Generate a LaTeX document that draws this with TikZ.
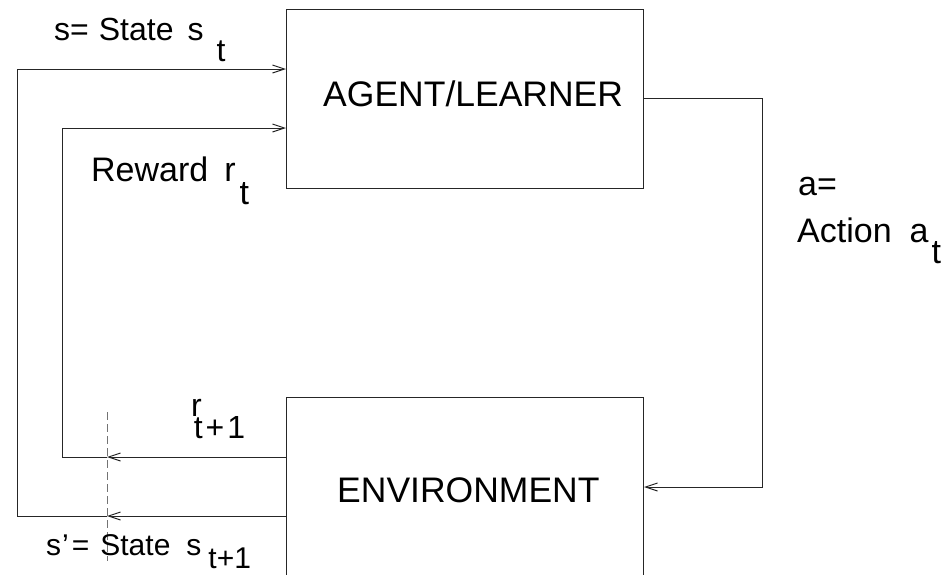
\documentclass[tikz,border=0pt]{standalone}
\usepackage{fontspec}
\setmainfont{Liberation Sans}
\usetikzlibrary{arrows.meta}
\begin{document}
\begin{tikzpicture}[x=1pt,y=-1pt,
  box/.style={draw=black!85, line width=1pt, minimum width=357pt, inner sep=0pt, anchor=north west},
  conn/.style={draw=black!85, line width=1pt},
  tip/.style={-{Straight Barb[length=12pt,width=8pt]}},
  guide/.style={draw=black!55, line width=1pt, dash pattern=on 8pt off 4pt},
  lbl/.style={anchor=base west, inner sep=0pt, font=\fontsize{30}{36}\selectfont},
  lblm/.style={anchor=base west, inner sep=0pt, font=\fontsize{32}{38}\selectfont},
  lblb/.style={anchor=base west, inner sep=0pt, font=\fontsize{34}{40}\selectfont},
  big/.style={anchor=base west, inner sep=0pt, font=\fontsize{35.5}{42}\selectfont}]
\clip (0,0) rectangle (947,574);
\useasboundingbox (0,0) rectangle (947,574);
% boxes
\node[box, minimum height=179pt] (agent) at (286,9) {};
\node[box, minimum height=240pt] (env) at (286,397) {};
\node[big] (agentlbl) at (323,106) {AGENT/LEARNER};
\node[big] (envlbl) at (337,502) {ENVIRONMENT};
% helper coordinates
\coordinate (ySin) at (0,69);
\coordinate (yRin) at (0,128);
\coordinate (yAout) at (0,98);
\coordinate (yAin) at (0,487);
\coordinate (yRout) at (0,457);
\coordinate (ySout) at (0,516);
\coordinate (xS) at (17,0);
\coordinate (xR) at (62,0);
\coordinate (xA) at (762,0);
\coordinate (xMid) at (107,0);
\coordinate (dTop) at (107,412);
\coordinate (dBot) at (107,561);
% action
\draw[conn,tip] (agent.east |- yAout) -| (xA |- yAin) -- (env.east |- yAin);
% reward loop
\draw[conn,tip] (env.west |- yRout) -- (xMid |- yRout);
\draw[conn,tip] (xMid |- yRout) -| (xR |- yRin) -- (agent.west |- yRin);
% state loop
\draw[conn,tip] (env.west |- ySout) -- (xMid |- ySout);
\draw[conn,tip] (xMid |- ySout) -| (xS |- ySin) -- (agent.west |- ySin);
% dashed guide
\draw[guide] (dTop) -- (dBot);
% labels
\node[lblm] (lstate) at (54,40) {s=\hspace{10pt}State\hspace{14pt}s\hspace{13pt}\raisebox{-21pt}{t}};
\node[lblb] (lreward) at (91,181) {Reward\hspace{16pt}r\hspace{4pt}\raisebox{-23pt}{t}};
\node[lblm] (lrnext) at (191,416) {r\hspace{-8pt}\raisebox{-22pt}{t\hspace{3pt}+\hspace{3pt}1}};
\node[lbl] (lsnext) at (46,555) {s\kern1pt'\kern3pt=\hspace{11pt}State\hspace{16pt}s\hspace{7pt}\raisebox{-13pt}{t+1}};
\node[lblb] (la1) at (798,195) {a=};
\node[lblb] (la2) at (797,242) {Action\hspace{18pt}a\hspace{3pt}\raisebox{-21pt}{t}};
\end{tikzpicture}
\end{document}
